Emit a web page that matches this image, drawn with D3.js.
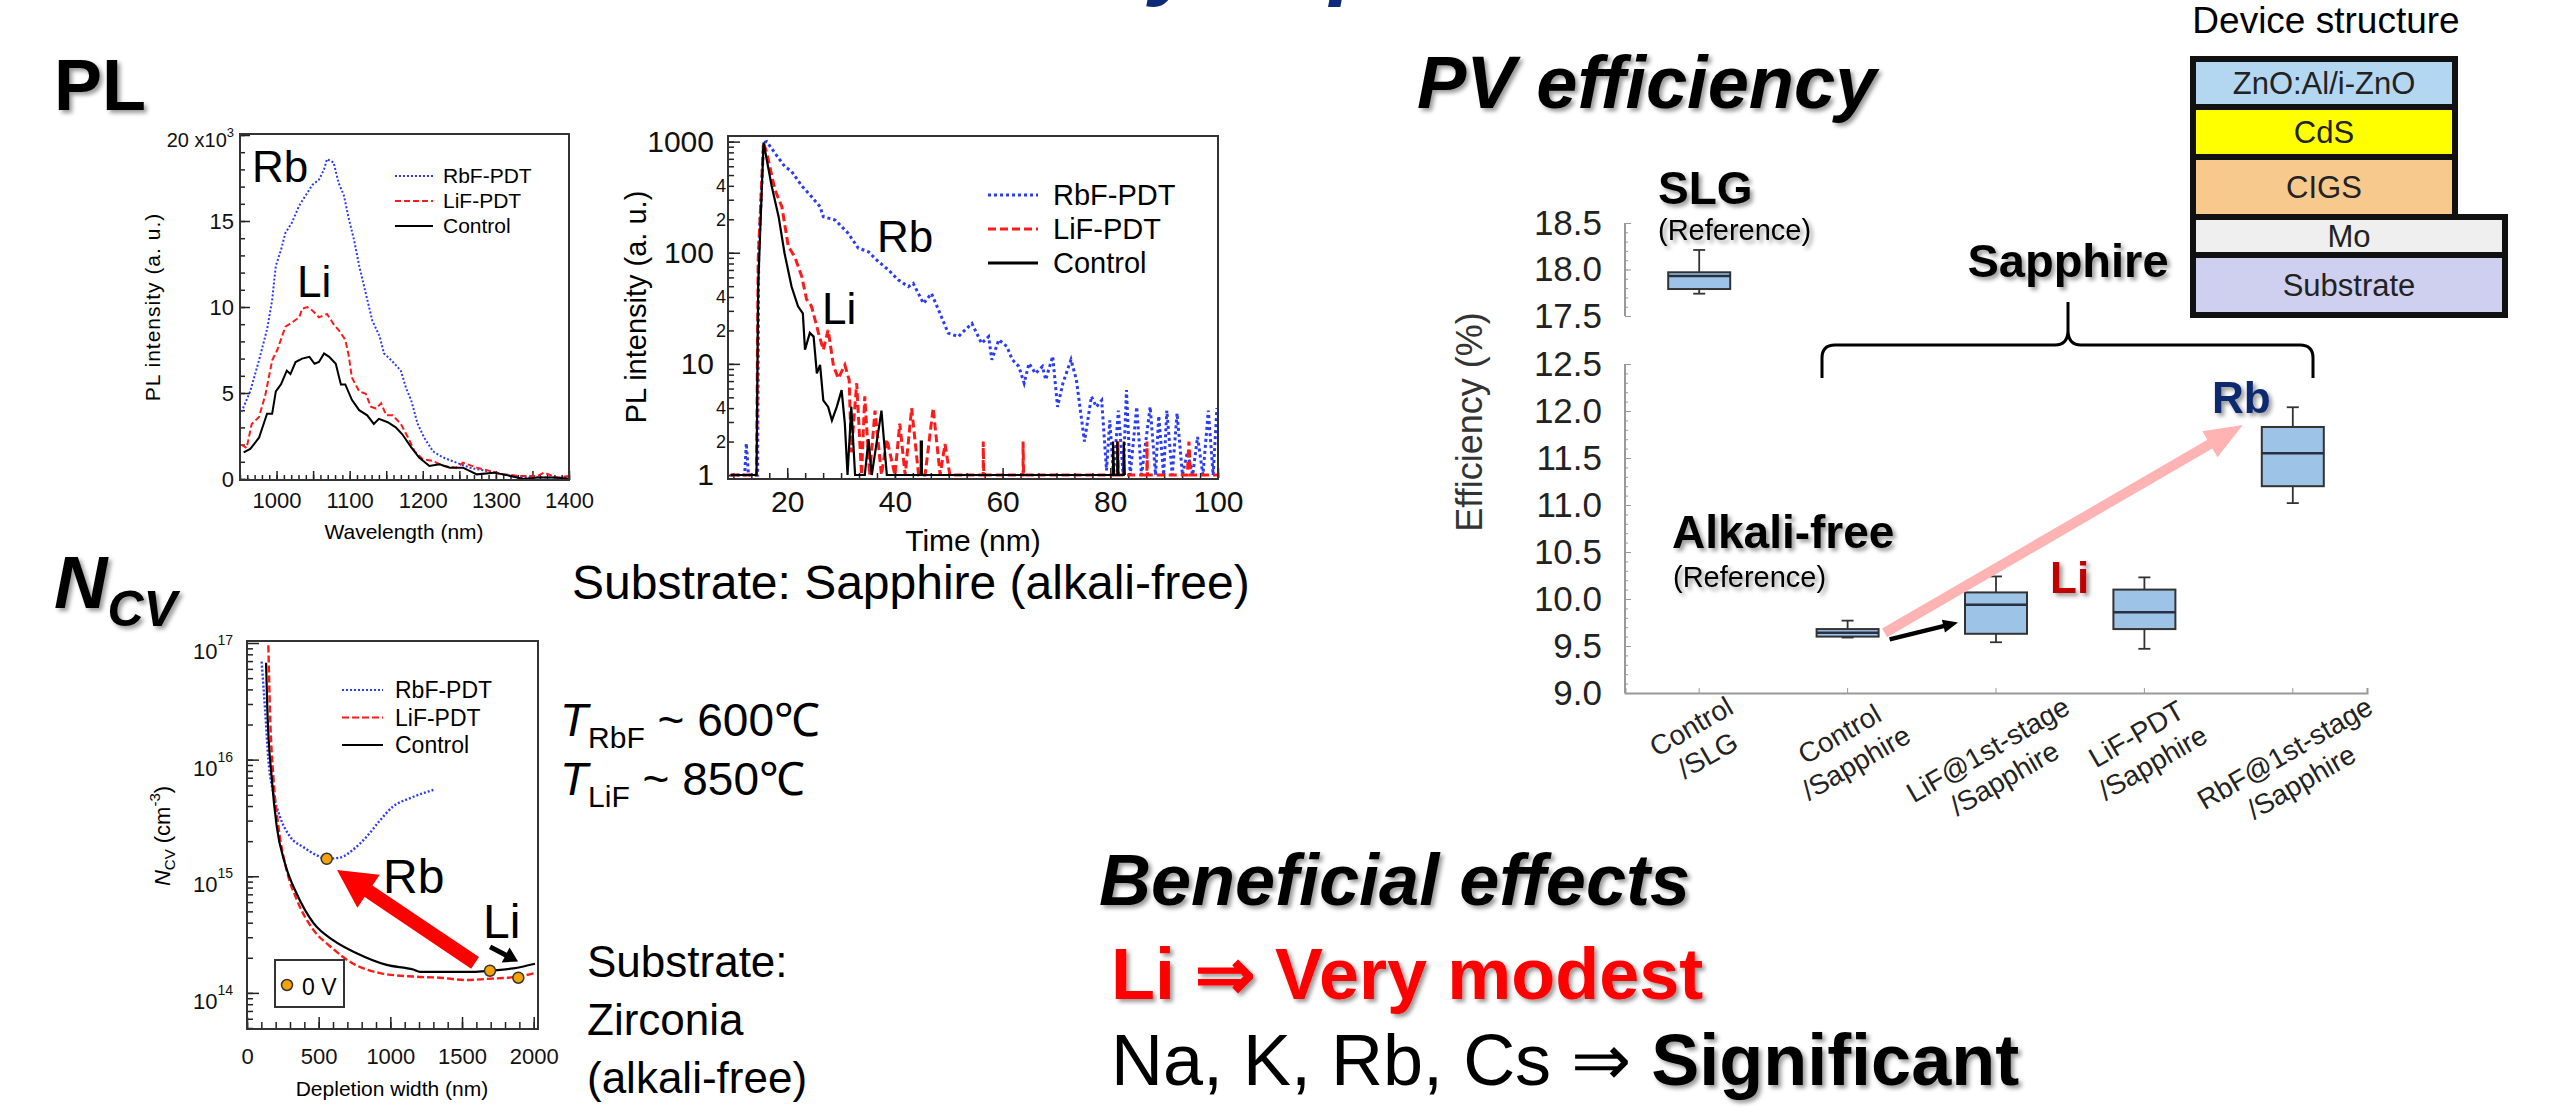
<!DOCTYPE html>
<html lang="en">
<head>
<meta charset="utf-8">
<title>Alkali PDT on alkali-free substrates</title>
<script src="https://d3js.org/d3.v7.min.js"></script>
<style>
  body { margin: 0; background: #fff; }
  svg { display: block; font-family: "Liberation Sans", Arial, sans-serif; }
  .narrow { font-family: "Liberation Sans Narrow", "Liberation Sans", Arial, sans-serif; }
  .bold { font-weight: bold; }
</style>
</head>
<body>
<script>
// ---- data ----

// PL spectra (wavelength nm, intensity x10^3)
var wlRbf = [[952,3.9],[964,5.1],[976,6.9],[987,8.7],[994,10.4],[999,12.4],[1006,13.3],[1012,14.3],[1021,14.9],[1031,15.9],[1040,16.5],[1049,17.1],[1058,17.4],[1065,18.0],[1069,18.6],[1078,18.4],[1085,17.2],[1092,16.5],[1099,15.1],[1106,13.9],[1113,12.4],[1122,10.8],[1131,9.2],[1141,8.3],[1147,7.3],[1157,6.9],[1170,6.3],[1177,5.3],[1184,4.6],[1193,3.2],[1202,2.4],[1214,1.6],[1228,1.25],[1246,0.95],[1264,0.66],[1287,0.47],[1310,0.27],[1333,0.08],[1357,0.1],[1380,0.08],[1400,0.08]];
var wlLif = [[952,2.0],[959,1.8],[966,3.2],[976,3.6],[985,4.95],[994,6.9],[1001,7.5],[1012,8.85],[1021,9.1],[1031,9.4],[1035,9.9],[1042,10.0],[1049,9.8],[1058,9.4],[1069,9.6],[1078,9.0],[1085,8.65],[1094,8.1],[1099,7.1],[1103,5.9],[1113,5.1],[1122,4.95],[1129,4.2],[1136,4.1],[1143,4.4],[1150,3.7],[1159,3.7],[1170,3.2],[1180,2.4],[1189,1.6],[1200,1.15],[1214,1.05],[1228,0.75],[1246,0.66],[1255,0.95],[1274,0.66],[1292,0.47],[1310,0.27],[1333,0.18],[1357,0.18],[1366,0.37],[1384,0.08],[1400,0.18]];
var wlCtl = [[955,1.55],[964,1.75],[976,2.4],[987,3.8],[994,3.8],[999,5.1],[1006,5.5],[1014,6.3],[1019,6.1],[1026,6.8],[1035,7.0],[1045,7.1],[1052,6.7],[1058,6.8],[1065,7.3],[1072,7.1],[1081,6.7],[1088,5.5],[1094,5.5],[1103,4.6],[1113,4.0],[1124,3.7],[1133,3.2],[1140,3.5],[1152,3.3],[1163,3.0],[1172,2.6],[1184,1.85],[1195,1.25],[1209,0.76],[1223,0.86],[1237,0.66],[1255,0.66],[1274,0.27],[1297,0.37],[1320,0.18],[1338,0.0],[1357,0.08],[1380,0.08],[1400,0.02]];

// TRPL decay (time, counts)
var trRbf = [[9.5,1],[12.1,1],[12.4,1.93],[12.8,1],[14.5,1],[14.7,99],[15.6,980],[16.2,1000],[17.7,790],[19.5,600],[20.8,540],[22.7,400],[24.5,320],[26.1,260],[26.7,211],[28.9,197],[31.3,150],[33.2,110],[35.1,102],[36.6,86],[38.8,70],[40.6,57],[42.5,49.6],[43.4,53],[45.3,35],[46.8,43],[48.1,30.6],[49.9,18.9],[51.8,17.6],[52.4,18.9],[54.3,23.1],[56.1,15.3],[57.4,17.6],[58,10.9],[59.3,16.5],[60.8,14.3],[61.8,10.9],[63,9.5],[64,6.7],[64.9,10.1],[66.1,8.2],[67.4,9.5],[68,7.2],[69.3,11.7],[70.2,4.1],[71.2,6.7],[72.7,10.9],[73.7,7.2],[75.2,2.0],[76.5,5.1],[77.4,4.1],[78.4,4.7],[79.3,1.1],[79.9,3.1],[80.6,1],[81.5,3.8],[82.4,1],[83,5.8],[83.7,1],[84.9,4.1],[85.8,1],[87.4,4.1],[88.4,1],[89,3.4],[89.9,1],[90.5,3.8],[91.5,1],[92.4,3.6],[93.4,1],[94.3,1.6],[95.3,1],[96.2,2.2],[97.2,1],[98.2,3.8],[99.1,1],[99.8,4]];
var trLif = [[9.5,1],[14.3,1],[14.6,86],[15.6,980],[16.2,790],[17.7,370],[19,260],[20.2,114],[21.4,92],[22.7,61],[23.6,38],[24.5,33],[25.8,19],[26.7,13.4],[27.6,20.2],[28.6,9.5],[29.5,7.4],[30.7,9.8],[31.5,7.2],[31.9,1.6],[32.9,6.7],[33.8,1],[34.4,5.1],[35.3,1],[36.3,3.8],[37.5,1],[38.5,2.1],[40,1],[40.9,2.9],[41.9,1],[43.1,4],[44.4,1],[45.6,1],[47.1,4],[48.4,1],[49.3,1.9],[50.2,1],[56.4,1],[56.4,2],[56.5,1],[63.8,1],[63.8,2],[63.9,1],[81.4,1],[81.4,2],[81.5,1],[86.8,1],[86.8,2],[86.9,1],[94.3,1],[94.6,2],[94.9,1],[100,1]];
var trCtl = [[9.5,1],[14.3,1],[14.6,50],[15.6,980],[17.1,400],[18.4,211],[19.5,99],[20.8,49.6],[22,33],[22.9,28.5],[23.3,13.4],[24.2,19],[24.9,17.6],[25.5,8.2],[26.1,9.8],[26.7,4.7],[27.6,4.1],[28.3,3.1],[29.2,4.1],[30.1,5.8],[30.7,2.9],[31.2,1],[31.9,4.1],[32.6,1],[34.4,1],[35.1,2.1],[35.7,1],[37.5,3.8],[38.5,1],[44.8,1],[44.8,2],[45,2],[45,1],[80.5,1],[80.5,2],[80.7,1],[81.3,1],[81.3,2],[81.5,1],[82.5,1],[82.5,2],[82.7,1]];

// N_CV profiles (depletion width nm, log10 N)
var ncvRbf = [[102,16.84],[126,16.43],[149,16.0],[184,15.71],[230,15.51],[300,15.34],[393,15.25],[486,15.18],[556,15.15],[649,15.16],[742,15.23],[835,15.34],[928,15.48],[1021,15.6],[1137,15.67],[1300,15.74]];
var ncvLif = [[149,16.98],[160,16.43],[184,15.85],[219,15.43],[277,15.05],[347,14.80],[463,14.54],[579,14.40],[742,14.25],[928,14.17],[1160,14.14],[1346,14.13],[1532,14.11],[1672,14.12],[1893,14.14],[2009,14.17]];
var ncvCtl = [[133,16.83],[142,16.43],[172,15.85],[207,15.43],[265,15.11],[347,14.85],[463,14.60],[603,14.45],[765,14.34],[974,14.24],[1160,14.20],[1207,14.18],[1393,14.18],[1579,14.18],[1695,14.19],[1858,14.21],[2009,14.25]];
var zeroBiasX = [556, 1695, 1893];
var zeroBiasLogN = [15.15, 14.19, 14.13];

// PV efficiency box plots
var effCats = ["Control/SLG", "Control/Sapphire", "LiF@1st-stage/Sapphire", "LiF-PDT/Sapphire", "RbF@1st-stage/Sapphire"];
var effLabels = [["Control","/SLG"],["Control","/Sapphire"],["LiF@1st-stage","/Sapphire"],["LiF-PDT","/Sapphire"],["RbF@1st-stage","/Sapphire"]];
var effMin = [17.74, 9.59, 9.54, 9.47, 11.02];
var effQ1  = [17.79, 9.60, 9.63, 9.68, 11.20];
var effMed = [17.93, 9.64, 9.94, 9.86, 11.55];
var effQ3  = [17.97, 9.68, 10.07, 10.10, 11.83];
var effMax = [18.21, 9.77, 10.24, 10.23, 12.04];

// device stack
var layerNames = ["ZnO:Al/i-ZnO", "CdS", "CIGS", "Mo", "Substrate"];
var layerColors = ["#b4d7f1", "#ffff00", "#f8c98c", "#efefef", "#cfcff0"];

var seriesNames = ["RbF-PDT", "LiF-PDT", "Control"];
var seriesColors = ["#2a3cf5", "#ff1a1a", "#000"];

// ---- drawing ----
var W = 2563, H = 1115;
var svg = d3.select("body").append("svg").attr("width", W).attr("height", H);
svg.append("rect").attr("width", W).attr("height", H).attr("fill", "#fff");

var defs = svg.append("defs");
defs.append("filter").attr("id", "sh").attr("x", "-10%").attr("y", "-10%").attr("width", "130%").attr("height", "140%")
  .append("feDropShadow").attr("dx", 3).attr("dy", 3).attr("stdDeviation", 2)
  .attr("flood-color", "#000").attr("flood-opacity", 0.4);

function arrowPts(x1, y1, x2, y2, w, hw, hl) {
  var dx = x2 - x1, dy = y2 - y1, L = Math.hypot(dx, dy);
  var ux = dx / L, uy = dy / L, px = -uy, py = ux;
  var bx = x2 - ux * hl, by = y2 - uy * hl;
  return [[x1 + px * w / 2, y1 + py * w / 2], [bx + px * w / 2, by + py * w / 2], [bx + px * hw / 2, by + py * hw / 2],
          [x2, y2], [bx - px * hw / 2, by - py * hw / 2], [bx - px * w / 2, by - py * w / 2], [x1 - px * w / 2, y1 - py * w / 2]]
         .map(function(p) { return p.join(","); }).join(" ");
}

function styleAxis(g, size, fam) {
  g.attr("font-size", size).attr("font-family", fam || null);
  g.selectAll("line").attr("stroke", "#222").attr("stroke-width", 1.5);
  g.selectAll("text").attr("fill", "#111");
  g.select(".domain").remove();
}

function frame(x, y) {
  var xr = x.range(), yr = y.range();
  svg.append("rect").attr("x", xr[0]).attr("y", yr[1] - 1)
    .attr("width", xr[1] - xr[0]).attr("height", yr[0] - yr[1] + 2)
    .attr("fill", "none").attr("stroke", "#333").attr("stroke-width", 2);
}

// cut-off slide title (only descenders visible)
svg.append("text").attr("x", 1150).attr("y", -12).attr("font-size", 90).attr("font-weight", "bold")
  .attr("font-style", "italic").attr("fill", "#0b2a78").text("y");
svg.append("text").attr("x", 1330).attr("y", -12).attr("font-size", 90).attr("font-weight", "bold")
  .attr("font-style", "italic").attr("fill", "#0b2a78").text("p");

// section headings
svg.append("text").attr("x", 54).attr("y", 110).attr("font-size", 72).attr("font-weight", "bold")
  .attr("filter", "url(#sh)").text("PL");
var ncvHead = svg.append("text").attr("x", 54).attr("y", 608).attr("font-size", 74).attr("font-weight", "bold")
  .attr("font-style", "italic").attr("filter", "url(#sh)");
ncvHead.append("tspan").text("N");
ncvHead.append("tspan").attr("font-size", 50).attr("dy", 18).text("CV");
svg.append("text").attr("x", 1417).attr("y", 108).attr("font-size", 74).attr("font-weight", "bold")
  .attr("font-style", "italic").attr("filter", "url(#sh)").text("PV efficiency");

// ===== PL spectrum =====
var x1 = d3.scaleLinear().domain([950, 1400]).range([240, 569]);
var y1 = d3.scaleLinear().domain([0, 20]).range([479, 135]);
var g1 = svg.append("g");
g1.append("g").attr("transform", "translate(0,480)")
  .call(d3.axisBottom(x1).tickValues(d3.range(950, 1401, 10)).tickSize(-5).tickFormat(""))
  .call(function(g) { styleAxis(g, 22); });
g1.append("g").attr("transform", "translate(0,480)")
  .call(d3.axisBottom(x1).tickValues(d3.range(1000, 1401, 50)).tickSize(-9).tickPadding(12)
    .tickFormat(function(d) { return d % 100 === 0 ? d : ""; }))
  .call(function(g) { styleAxis(g, 22, "'Liberation Sans Narrow', 'Liberation Sans', Arial"); });
g1.append("g").attr("transform", "translate(240,0)")
  .call(d3.axisLeft(y1).tickValues(d3.range(0, 20.1, 1)).tickSize(-5).tickFormat(""))
  .call(function(g) { styleAxis(g, 22); });
g1.append("g").attr("transform", "translate(240,0)")
  .call(d3.axisLeft(y1).tickValues([0, 5, 10, 15, 20]).tickSize(-10).tickPadding(6)
    .tickFormat(function(d) { return d === 20 ? "20 x10" : d; }))
  .call(function(g) {
    styleAxis(g, 22, "'Liberation Sans Narrow', 'Liberation Sans', Arial");
    g.selectAll("text").filter(function(d) { return d === 20; })
      .attr("dy", "0.55em").attr("font-size", 20)
      .append("tspan").attr("dy", -10).attr("font-size", 13).text("3");
  });
frame(x1, y1);
var line1 = d3.line().x(function(d) { return x1(d[0]); }).y(function(d) { return y1(d[1]); });
[wlRbf, wlLif, wlCtl].forEach(function(s, i) {
  g1.append("path").datum(s).attr("d", line1).attr("fill", "none")
    .attr("stroke", seriesColors[i]).attr("stroke-width", 2)
    .attr("stroke-dasharray", i === 0 ? "2,2" : i === 1 ? "6,3" : null);
});
seriesNames.forEach(function(n, i) {
  var yy = 176 + i * 25;
  g1.append("line").attr("x1", 395).attr("x2", 433).attr("y1", yy).attr("y2", yy)
    .attr("stroke", seriesColors[i]).attr("stroke-width", 2)
    .attr("stroke-dasharray", i === 0 ? "2,2" : i === 1 ? "6,3" : null);
  g1.append("text").attr("x", 443).attr("y", yy + 7).attr("font-size", 21).text(n);
});
g1.append("text").attr("x", 252).attr("y", 182).attr("font-size", 44).text("Rb");
g1.append("text").attr("x", 297).attr("y", 297).attr("font-size", 44).text("Li");
g1.append("text").attr("transform", "translate(160,307) rotate(-90)").attr("text-anchor", "middle")
  .attr("font-size", 21).attr("letter-spacing", 1).text("PL intensity (a. u.)");
g1.append("text").attr("x", 404).attr("y", 539).attr("text-anchor", "middle").attr("class", "narrow")
  .attr("font-size", 21).text("Wavelength (nm)");

// ===== TRPL decay =====
var x2 = d3.scaleLinear().domain([9, 100]).range([728, 1218]);
var y2 = d3.scaleLog().domain([0.94, 1100]).range([478, 137]);
var g2 = svg.append("g");
var minorLog = [];
[1, 10, 100].forEach(function(b) { for (var k = 1; k < 10; k++) minorLog.push(b * k); });
minorLog.push(1000);
g2.append("g").attr("transform", "translate(0,478)")
  .call(d3.axisBottom(x2).tickValues(d3.range(10, 100.1, 20 / 6)).tickSize(-5).tickFormat(""))
  .call(function(g) { styleAxis(g, 30); });
g2.append("g").attr("transform", "translate(0,478)")
  .call(d3.axisBottom(x2).tickValues([20, 40, 60, 80, 100]).tickSize(-10).tickPadding(13))
  .call(function(g) { styleAxis(g, 30); });
g2.append("g").attr("transform", "translate(728,0)")
  .call(d3.axisLeft(y2).tickValues(minorLog).tickSize(-6).tickPadding(2)
    .tickFormat(function(d) { var m = d / Math.pow(10, Math.floor(Math.log10(d) + 1e-9)); return (Math.round(m) === 2 || Math.round(m) === 4) ? Math.round(m) : ""; }))
  .call(function(g) { styleAxis(g, 18); });
g2.append("g").attr("transform", "translate(728,0)")
  .call(d3.axisLeft(y2).tickValues([1, 10, 100, 1000]).tickSize(-12).tickPadding(14).tickFormat(d3.format("d")))
  .call(function(g) { styleAxis(g, 30); });
frame(x2, y2);
var line2 = d3.line().x(function(d) { return x2(d[0]); }).y(function(d) { return y2(d[1]); });
[trRbf, trLif, trCtl].forEach(function(s, i) {
  g2.append("path").datum(s).attr("d", line2).attr("fill", "none")
    .attr("stroke", seriesColors[i]).attr("stroke-width", i === 2 ? 2.2 : 3)
    .attr("stroke-dasharray", i === 0 ? "3,3" : i === 1 ? "8,4" : null);
});
seriesNames.forEach(function(n, i) {
  var yy = 195 + i * 34;
  g2.append("line").attr("x1", 988).attr("x2", 1038).attr("y1", yy).attr("y2", yy)
    .attr("stroke", seriesColors[i]).attr("stroke-width", 3)
    .attr("stroke-dasharray", i === 0 ? "3,3" : i === 1 ? "8,4" : null);
  g2.append("text").attr("x", 1053).attr("y", yy + 10).attr("font-size", 29).text(n);
});
g2.append("text").attr("x", 877).attr("y", 252).attr("font-size", 44).text("Rb");
g2.append("text").attr("x", 822).attr("y", 324).attr("font-size", 44).text("Li");
g2.append("text").attr("transform", "translate(646,307) rotate(-90)").attr("text-anchor", "middle")
  .attr("font-size", 29).text("PL intensity (a. u.)");
g2.append("text").attr("x", 973).attr("y", 551).attr("text-anchor", "middle")
  .attr("font-size", 30).text("Time (nm)");
svg.append("text").attr("x", 572).attr("y", 599).attr("font-size", 48)
  .text("Substrate: Sapphire (alkali-free)");

// ===== N_CV profile =====
var x3 = d3.scaleLinear().domain([0, 2030]).range([247, 538]);
var y3 = d3.scaleLog().domain([5e13, 1.02e17]).range([1028, 642]);
var g3 = svg.append("g");
var ncvMinor = [];
[1e13, 1e14, 1e15, 1e16].forEach(function(b) { for (var k = 1; k < 10; k++) if (b * k >= 5e13) ncvMinor.push(b * k); });
g3.append("g").attr("transform", "translate(0,1028)")
  .call(d3.axisBottom(x3).tickValues(d3.range(0, 2001, 100)).tickSize(-6).tickFormat(""))
  .call(function(g) { styleAxis(g, 22); });
g3.append("g").attr("transform", "translate(0,1028)")
  .call(d3.axisBottom(x3).tickValues([0, 500, 1000, 1500, 2000]).tickSize(-11).tickPadding(20).tickFormat(d3.format("d")))
  .call(function(g) { styleAxis(g, 22, "'Liberation Sans Narrow', 'Liberation Sans', Arial"); });
g3.append("g").attr("transform", "translate(247,0)")
  .call(d3.axisLeft(y3).tickValues(ncvMinor).tickSize(-6).tickFormat(""))
  .call(function(g) { styleAxis(g, 22); });
g3.append("g").attr("transform", "translate(247,0)")
  .call(d3.axisLeft(y3).tickValues([1e14, 1e15, 1e16, 1e17]).tickSize(-12).tickPadding(14)
    .tickFormat(function() { return "10"; }))
  .call(function(g) {
    styleAxis(g, 22);
    g.selectAll("text").attr("dy", "0.7em")
      .append("tspan").attr("dy", -14).attr("font-size", 14)
      .text(function(d) { return Math.round(Math.log10(d)); });
  });
frame(x3, y3);
var line3 = d3.line().x(function(d) { return x3(d[0]); }).y(function(d) { return y3(Math.pow(10, d[1])); }).curve(d3.curveMonotoneX);
[ncvRbf, ncvLif, ncvCtl].forEach(function(s, i) {
  g3.append("path").datum(s).attr("d", line3).attr("fill", "none")
    .attr("stroke", seriesColors[i]).attr("stroke-width", i === 2 ? 2.2 : 2.4)
    .attr("stroke-dasharray", i === 0 ? "2,2" : i === 1 ? "7,3" : null);
});
seriesNames.forEach(function(n, i) {
  var yy = 690 + i * 27.5;
  g3.append("line").attr("x1", 342).attr("x2", 383).attr("y1", yy).attr("y2", yy)
    .attr("stroke", seriesColors[i]).attr("stroke-width", 2.2)
    .attr("stroke-dasharray", i === 0 ? "2,2" : i === 1 ? "7,3" : null);
  g3.append("text").attr("x", 395).attr("y", yy + 8).attr("font-size", 23).text(n);
});
// red Rb arrow and small black Li arrow, in data coordinates
g3.append("polygon").attr("fill", "#ff0000")
  .attr("points", arrowPts(x3(1591), y3(1.81e14), x3(628), y3(1.13e15), 14, 40, 38));
g3.append("polygon").attr("fill", "#000")
  .attr("points", arrowPts(x3(1696), y3(2.48e14), x3(1891), y3(1.86e14), 5, 17, 14));
g3.selectAll("circle.zb").data(zeroBiasX).enter().append("circle").attr("class", "zb")
  .attr("cx", function(d) { return x3(d); })
  .attr("cy", function(d, i) { return y3(Math.pow(10, zeroBiasLogN[i])); })
  .attr("r", 5.5).attr("fill", "#f5a300").attr("stroke", "#333").attr("stroke-width", 1.5);
g3.append("text").attr("x", 383).attr("y", 893).attr("font-size", 48).text("Rb");
g3.append("text").attr("x", 483).attr("y", 938).attr("font-size", 48).text("Li");
g3.append("rect").attr("x", 275).attr("y", 960).attr("width", 69).attr("height", 47)
  .attr("fill", "#fff").attr("stroke", "#333").attr("stroke-width", 2);
g3.append("circle").attr("cx", 287).attr("cy", 985).attr("r", 5.5).attr("fill", "#f5a300").attr("stroke", "#333").attr("stroke-width", 1.5);
g3.append("text").attr("x", 302).attr("y", 995).attr("font-size", 23).text("0 V");
var ncvLab = g3.append("text").attr("transform", "translate(170,836) rotate(-90)").attr("text-anchor", "middle").attr("font-size", 22);
ncvLab.append("tspan").attr("font-style", "italic").text("N");
ncvLab.append("tspan").attr("font-size", 15).attr("dy", 5).text("CV");
ncvLab.append("tspan").attr("dy", -5).text(" (cm");
ncvLab.append("tspan").attr("font-size", 15).attr("dy", -10).text("-3");
ncvLab.append("tspan").attr("dy", 10).text(")");
g3.append("text").attr("x", 392).attr("y", 1096).attr("text-anchor", "middle").attr("class", "narrow")
  .attr("font-size", 21).text("Depletion width (nm)");

// annealing temperatures and substrate note
[["RbF", "600", 736], ["LiF", "850", 795]].forEach(function(t) {
  var tx = svg.append("text").attr("x", 560).attr("y", t[2]).attr("font-size", 46);
  tx.append("tspan").attr("font-style", "italic").text("T");
  tx.append("tspan").attr("font-size", 30).attr("dy", 12).text(t[0]);
  tx.append("tspan").attr("dy", -12).text(" ~ " + t[1] + "\u2103");
});
["Substrate:", "Zirconia", "(alkali-free)"].forEach(function(s, i) {
  svg.append("text").attr("x", 587).attr("y", 977 + i * 58).attr("font-size", 44).text(s);
});

// ===== PV efficiency box plot =====
var xb = d3.scaleBand().domain(effCats).range([1625, 2367]);
var yUp = d3.scaleLinear().domain([17.5, 18.5]).range([316, 223]);
var yLo = d3.scaleLinear().domain([9, 12.5]).range([693, 364]);
var gb = svg.append("g");
function boxAxis(sc, lo, hi) {
  gb.append("g").attr("transform", "translate(1625,0)")
    .call(d3.axisLeft(sc).tickValues(d3.range(lo, hi + 0.01, 0.1)).tickSize(-3).tickFormat(""))
    .call(function(g) { g.select(".domain").remove(); g.selectAll("line").attr("stroke", "#999"); });
  gb.append("g").attr("transform", "translate(1625,0)")
    .call(d3.axisLeft(sc).tickValues(d3.range(lo, hi + 0.01, 0.5)).tickSize(-6).tickPadding(23).tickFormat(d3.format(".1f")))
    .call(function(g) {
      g.attr("font-size", 35).attr("font-family", null);
      g.select(".domain").remove();
      g.selectAll("line").attr("stroke", "#999");
      g.selectAll("text").attr("fill", "#222");
    });
  gb.append("line").attr("x1", 1625).attr("x2", 1625).attr("y1", sc(lo)).attr("y2", sc(hi))
    .attr("stroke", "#999").attr("stroke-width", 2);
}
boxAxis(yUp, 17.5, 18.5);
boxAxis(yLo, 9, 12.5);
gb.append("g").attr("transform", "translate(0,693)")
  .call(d3.axisBottom(xb).tickSize(-5).tickFormat(""))
  .call(function(g) { g.select(".domain").attr("stroke", "#999").attr("stroke-width", 2); g.selectAll("line").attr("stroke", "#999"); });
gb.append("text").attr("transform", "translate(1482,422) rotate(-90)").attr("text-anchor", "middle")
  .attr("font-size", 36).attr("fill", "#333").text("Efficiency (%)");

var bw = 62;
effCats.forEach(function(c, i) {
  var sc = i === 0 ? yUp : yLo;
  var cx = xb(c) + xb.bandwidth() / 2;
  var b = gb.append("g");
  b.append("line").attr("x1", cx).attr("x2", cx).attr("y1", sc(effMax[i])).attr("y2", sc(effMin[i]))
    .attr("stroke", "#333").attr("stroke-width", 1.8);
  [effMax[i], effMin[i]].forEach(function(v) {
    b.append("line").attr("x1", cx - 6).attr("x2", cx + 6).attr("y1", sc(v)).attr("y2", sc(v))
      .attr("stroke", "#333").attr("stroke-width", 1.8);
  });
  b.append("rect").attr("x", cx - bw / 2).attr("y", sc(effQ3[i])).attr("width", bw)
    .attr("height", sc(effQ1[i]) - sc(effQ3[i])).attr("fill", "#9dc3e6").attr("stroke", "#333").attr("stroke-width", 2);
  b.append("line").attr("x1", cx - bw / 2).attr("x2", cx + bw / 2).attr("y1", sc(effMed[i])).attr("y2", sc(effMed[i]))
    .attr("stroke", "#263040").attr("stroke-width", 2.5);
  // rotated two-line category label
  var lg = gb.append("g");
  var t1 = lg.append("text").attr("text-anchor", "middle").attr("font-size", 28).attr("fill", "#222").text(effLabels[i][0]);
  var t2 = lg.append("text").attr("text-anchor", "middle").attr("font-size", 28).attr("fill", "#222").attr("y", 33).text(effLabels[i][1]);
  var wMax = Math.max(t1.node().getComputedTextLength(), t2.node().getComputedTextLength());
  lg.attr("transform", "translate(" + cx + "," + (693 + 25 + wMax / 4) + ") rotate(-30) translate(0,-6.5)");
});

// arrows and annotations in the efficiency plot
gb.append("polygon").attr("fill", "#ffb3b3")
  .attr("points", arrowPts(xb(effCats[1]) + xb.bandwidth() / 2 + 37, yLo(9.64), xb(effCats[4]) + xb.bandwidth() / 2 - 50, yLo(11.85), 10, 30, 38));
gb.append("polygon").attr("fill", "#000")
  .attr("points", arrowPts(xb(effCats[1]) + xb.bandwidth() / 2 + 42, yLo(9.57), xb(effCats[2]) + xb.bandwidth() / 2 - 38, yLo(9.75), 4.5, 13, 15));
gb.append("text").attr("x", 1658).attr("y", 204).attr("font-size", 46).attr("font-weight", "bold").attr("filter", "url(#sh)").text("SLG");
gb.append("text").attr("x", 1658).attr("y", 240).attr("font-size", 29).attr("filter", "url(#sh)").text("(Reference)");
gb.append("text").attr("x", 1672).attr("y", 548).attr("font-size", 46).attr("font-weight", "bold").attr("filter", "url(#sh)").text("Alkali-free");
gb.append("text").attr("x", 1673).attr("y", 587).attr("font-size", 29).attr("filter", "url(#sh)").text("(Reference)");
gb.append("text").attr("x", 2068).attr("y", 277).attr("text-anchor", "middle").attr("font-size", 47).attr("font-weight", "bold").attr("filter", "url(#sh)").text("Sapphire");
gb.append("path").attr("fill", "none").attr("stroke", "#000").attr("stroke-width", 3)
  .attr("d", "M1822,378 L1822,358 Q1822,345 1835,345 L2055,345 Q2068,345 2068,330 L2068,302 M2068,330 Q2068,345 2081,345 L2300,345 Q2313,345 2313,358 L2313,378");
gb.append("text").attr("x", 2212).attr("y", 413).attr("font-size", 44).attr("font-weight", "bold").attr("fill", "#0f2a6e").attr("filter", "url(#sh)").text("Rb");
gb.append("text").attr("x", 2050).attr("y", 593).attr("font-size", 44).attr("font-weight", "bold").attr("fill", "#c00000").attr("filter", "url(#sh)").text("Li");

// ===== device structure =====
var layerTop = [59, 107, 157, 217, 255, 315];
var ds = svg.append("g");
layerNames.forEach(function(n, i) {
  var right = i < 3 ? 2455 : 2505;
  ds.append("rect").attr("x", 2193).attr("y", layerTop[i]).attr("width", right - 2193)
    .attr("height", layerTop[i + 1] - layerTop[i]).attr("fill", layerColors[i])
    .attr("stroke", "#111").attr("stroke-width", 6);
  ds.append("text").attr("x", (2193 + right) / 2).attr("y", (layerTop[i] + layerTop[i + 1]) / 2 + 11)
    .attr("text-anchor", "middle").attr("font-size", 31).attr("fill", "#222").text(n);
});
svg.append("text").attr("x", 2326).attr("y", 33).attr("text-anchor", "middle").attr("font-size", 37).text("Device structure");

// ===== conclusions =====
svg.append("text").attr("x", 1099).attr("y", 905).attr("font-size", 72).attr("font-weight", "bold")
  .attr("font-style", "italic").attr("filter", "url(#sh)").text("Beneficial effects");
svg.append("text").attr("x", 1111).attr("y", 999).attr("font-size", 72).attr("font-weight", "bold")
  .attr("fill", "#ff0000").attr("filter", "url(#sh)").text("Li \u21D2 Very modest");
var sig = svg.append("text").attr("x", 1111).attr("y", 1085).attr("font-size", 72);
sig.append("tspan").text("Na, K, Rb, Cs \u21D2 ");
sig.append("tspan").attr("font-weight", "bold").attr("filter", "url(#sh)").text("Significant");
</script>
</body>
</html>
